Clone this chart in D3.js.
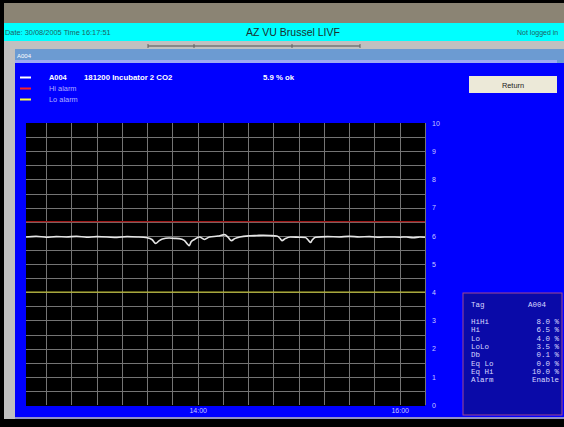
<!DOCTYPE html>
<html>
<head>
<meta charset="utf-8">
<script src="https://cdn.jsdelivr.net/npm/d3@7"></script>
<style>
  body { margin: 0; background: #000; }
  svg { display: block; }
  text { font-family: "Liberation Sans", Arial, sans-serif; }
  .mono { font-family: "Liberation Mono", "DejaVu Sans Mono", monospace; }
</style>
</head>
<body>
<div id="chart"></div>
<script>
// CO2 trace of tag A004 (time, % CO2)
const times = ["12:18","12:24","12:30","12:36","12:42","12:48","12:54","13:00","13:06","13:12",
  "13:18","13:24","13:30","13:33","13:35","13:37","13:39","13:43","13:46","13:49",
  "13:52","13:54","13:55","13:56","13:58","14:01","14:04","14:07","14:12","14:16",
  "14:18","14:20","14:22","14:25","14:31","14:35","14:39","14:43","14:47","14:49",
  "14:50","14:52","14:55","15:00","15:04","15:06","15:07","15:08","15:10","15:17",
  "15:24","15:30","15:36","15:42","15:48","15:54","16:00","16:04","16:08","16:12","16:15"];
const values = [5.96,5.98,5.95,5.97,5.96,5.98,5.95,5.97,5.96,5.94,
  5.97,5.96,5.93,5.86,5.73,5.82,5.89,5.92,5.91,5.90,
  5.84,5.70,5.65,5.78,5.87,5.96,5.87,5.96,5.99,6.04,
  5.95,5.83,5.90,5.96,6.00,6.01,6.02,6.01,5.99,5.90,
  5.83,5.90,5.96,5.95,5.94,5.82,5.76,5.85,5.95,5.97,
  5.96,5.98,5.96,5.97,5.95,5.96,5.95,5.96,5.93,5.96,5.95];

const hiAlarm = 6.5;
const loAlarm = 4.0;
const yTicks = [0,1,2,3,4,5,6,7,8,9,10];
const xTickLabels = ["14:00","16:00"];
const timeDomain = ["12:18","16:15"];

const infoLabels = ["HiHi","Hi","Lo","LoLo","Db","Eq Lo","Eq Hi","Alarm"];
const infoValues = ["8.0 %","6.5 %","4.0 %","3.5 %","0.1 %","0.0 %","10.0 %","Enable"];

const W = 564, H = 427;
const parseT = (s) => {
  const [hh, mm] = s.split(":");
  return new Date(2005, 7, 30, +hh, +mm);
};

const svg = d3.select("#chart").append("svg")
  .attr("width", W).attr("height", H);

// window chrome
svg.append("rect").attr("width", W).attr("height", H).attr("fill", "#000");
svg.append("rect").attr("x", 4).attr("y", 3).attr("width", W).attr("height", 20).attr("fill", "#8b8474");
svg.append("rect").attr("x", 4).attr("y", 23).attr("width", W).attr("height", 18).attr("fill", "#00ffff");
svg.append("rect").attr("x", 4).attr("y", 41).attr("width", W).attr("height", 378).attr("fill", "#c0c0c0");

svg.append("text").attr("x", 5).attr("y", 35).attr("font-size", 7.4).attr("fill", "#1f5f5f")
  .text("Date: 30/08/2005 Time 16:17:51");
svg.append("text").attr("x", 293).attr("y", 36).attr("font-size", 10.5).attr("text-anchor", "middle")
  .attr("fill", "#1a3030").text("AZ VU Brussel LIVF");
svg.append("text").attr("x", 517).attr("y", 35).attr("font-size", 7).attr("fill", "#1f5f5f")
  .text("Not logged in");

// small toolbar line
svg.append("line").attr("x1", 148).attr("x2", 360).attr("y1", 46).attr("y2", 46)
  .attr("stroke", "#505050").attr("stroke-width", 1);
[148, 194, 292, 360].forEach((x) => {
  svg.append("line").attr("x1", x).attr("x2", x).attr("y1", 44).attr("y2", 48)
    .attr("stroke", "#606060");
});

// sub-window title bar
svg.append("rect").attr("x", 15).attr("y", 49).attr("width", W - 15).attr("height", 14).attr("fill", "#6c9bd2");
svg.append("rect").attr("x", 15).attr("y", 60).attr("width", 542).attr("height", 3).attr("fill", "#9ea9f2");
svg.append("text").attr("x", 17).attr("y", 58).attr("font-size", 6).attr("fill", "#fff").text("A004");

// blue panel
svg.append("rect").attr("x", 15).attr("y", 63).attr("width", W - 15).attr("height", 354).attr("fill", "#0000ff");
svg.append("rect").attr("x", 15).attr("y", 417).attr("width", W - 15).attr("height", 2).attr("fill", "#9090c8");

// legend
const legend = svg.append("g");
const legendRows = [
  { c: "#ffffff", t: "A004", y: 80 },
  { c: "#ff2020", t: "Hi alarm", y: 91 },
  { c: "#ffff40", t: "Lo alarm", y: 102 }
];
legendRows.forEach((r, i) => {
  legend.append("line").attr("x1", 20).attr("x2", 31).attr("y1", r.y - 2.5).attr("y2", r.y - 2.5)
    .attr("stroke", r.c).attr("stroke-width", 2);
  legend.append("text").attr("x", 49).attr("y", r.y).attr("font-size", 7.4)
    .attr("font-weight", i === 0 ? "bold" : "normal")
    .attr("fill", i === 0 ? "#ffffff" : "#b0b0ff").text(r.t);
});
legend.append("text").attr("x", 84).attr("y", 80).attr("font-size", 7.8).attr("font-weight", "bold")
  .attr("fill", "#fff").text("181200 Incubator 2 CO2");
legend.append("text").attr("x", 263).attr("y", 80).attr("font-size", 7.8).attr("font-weight", "bold")
  .attr("fill", "#fff").text("5.9 %  ok");

// return button
svg.append("rect").attr("x", 469).attr("y", 76).attr("width", 88).attr("height", 17).attr("fill", "#ece9d8");
svg.append("text").attr("x", 513).attr("y", 88).attr("font-size", 7.4).attr("text-anchor", "middle")
  .attr("fill", "#202020").text("Return");

// plot
const x = d3.scaleTime().domain(timeDomain.map(parseT)).range([26, 425]);
const y = d3.scaleLinear().domain([0, 10]).range([405, 123]);

svg.append("rect").attr("x", 26).attr("y", 123).attr("width", 399).attr("height", 283).attr("fill", "#000");

const grid = svg.append("g").attr("stroke", "#747474").attr("stroke-width", 1);
grid.selectAll("line.v")
  .data(x.ticks(d3.timeMinute.every(15)))
  .enter().append("line")
  .attr("x1", (d) => Math.round(x(d)) + 0.5).attr("x2", (d) => Math.round(x(d)) + 0.5)
  .attr("y1", 123).attr("y2", 405);
grid.selectAll("line.h")
  .data(d3.range(0.5, 10, 0.5))
  .enter().append("line")
  .attr("x1", 26).attr("x2", 425)
  .attr("y1", (d) => Math.round(y(d)) + 0.5).attr("y2", (d) => Math.round(y(d)) + 0.5);

svg.append("line").attr("x1", 26).attr("x2", 425)
  .attr("y1", y(hiAlarm)).attr("y2", y(hiAlarm)).attr("stroke", "#a01818").attr("stroke-width", 1.2);
svg.append("line").attr("x1", 26).attr("x2", 425)
  .attr("y1", y(loAlarm)).attr("y2", y(loAlarm)).attr("stroke", "#b8b830").attr("stroke-width", 1.2);

const line = d3.line()
  .x((d, i) => x(parseT(times[i])))
  .y((d) => y(d))
  .curve(d3.curveMonotoneX);
svg.append("path").datum(values).attr("d", line)
  .attr("fill", "none").attr("stroke", "#e6e6e6").attr("stroke-width", 1.6);

// axes labels
const yAxis = d3.axisRight(y).tickValues(yTicks).tickSize(0).tickPadding(0);
svg.append("g").attr("transform", "translate(432,0)").call(yAxis)
  .call((g) => g.select(".domain").remove())
  .call((g) => g.selectAll("text").attr("fill", "#c8c8ff").attr("font-size", 7)
    .attr("font-family", "Liberation Sans, Arial, sans-serif"));

const xAxis = d3.axisBottom(x).tickValues(xTickLabels.map(parseT))
  .tickFormat(d3.timeFormat("%H:%M")).tickSize(0).tickPadding(0);
svg.append("g").attr("transform", "translate(0,408)").call(xAxis)
  .call((g) => g.select(".domain").remove())
  .call((g) => g.selectAll("text").attr("fill", "#c8c8ff").attr("font-size", 7)
    .attr("font-family", "Liberation Mono, monospace"));

// alarm info box
const box = svg.append("g").attr("class", "mono");
box.append("rect").attr("x", 463).attr("y", 293).attr("width", 99).attr("height", 122)
  .attr("fill", "#0a0aa8").attr("stroke", "#a04890").attr("stroke-width", 1);
box.append("text").attr("x", 471).attr("y", 307).attr("font-size", 7.5).attr("fill", "#d8d8ff")
  .attr("class", "mono").text("Tag");
box.append("text").attr("x", 528).attr("y", 307).attr("font-size", 7.5).attr("fill", "#d8d8ff")
  .attr("class", "mono").text("A004");
infoLabels.forEach((l, i) => {
  box.append("text").attr("x", 471).attr("y", 324 + i * 8.3).attr("font-size", 7.5)
    .attr("fill", "#d8d8ff").attr("class", "mono").text(l);
  box.append("text").attr("x", 559).attr("y", 324 + i * 8.3).attr("font-size", 7.5)
    .attr("text-anchor", "end").attr("fill", "#d8d8ff").attr("class", "mono")
    .text(infoValues[i]);
});
</script>
</body>
</html>
